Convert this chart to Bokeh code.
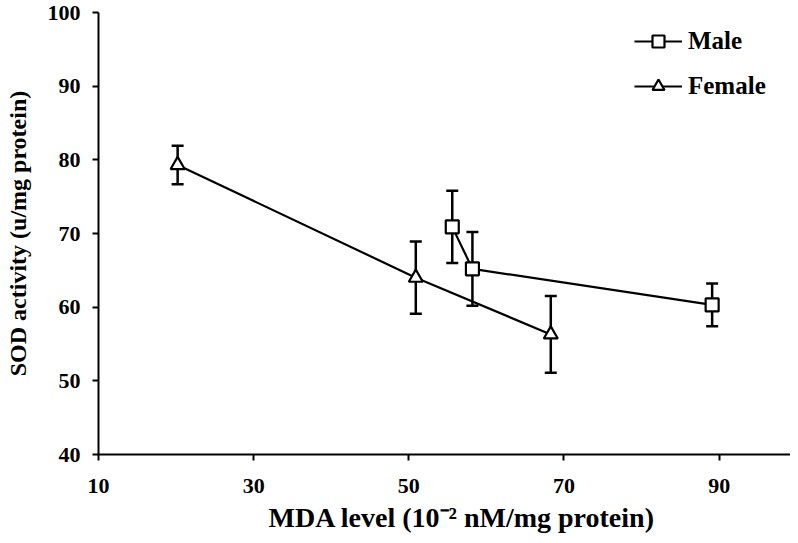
from bokeh.plotting import figure
from bokeh.models import Range1d, FixedTicker, Whisker, ColumnDataSource, Legend, LegendItem
from bokeh.models import TeeHead
from bokeh.embed import file_html
from bokeh.resources import INLINE

# Data
male_mda = [55.6, 58.2, 89.1]
male_sod = [70.9, 65.2, 60.3]
male_err = [4.9, 5.0, 2.9]

female_mda = [20.2, 50.9, 68.3]
female_sod = [79.3, 64.0, 56.3]
female_err = [2.6, 4.9, 5.2]

x_ticks = [10, 30, 50, 70, 90]
y_ticks = [40, 50, 60, 70, 80, 90, 100]

FONT = "Liberation Serif"

p = figure(width=790, height=535, output_backend="svg", toolbar_location=None,
           x_range=Range1d(10, 99.2), y_range=Range1d(40, 100),
           min_border_left=98, min_border_top=12, min_border_right=0, min_border_bottom=80)
p.outline_line_color = None
p.xgrid.visible = False
p.ygrid.visible = False
p.background_fill_color = "white"
p.border_fill_color = "white"

for ax in (p.xaxis[0], p.yaxis[0]):
    ax.axis_line_width = 2
    ax.axis_line_color = "black"
    ax.major_tick_line_width = 2
    ax.major_tick_line_color = "black"
    ax.major_tick_out = 6
    ax.major_tick_in = 0
    ax.minor_tick_line_color = None
    ax.major_label_text_font = FONT
    ax.major_label_text_font_style = "bold"
    ax.major_label_text_font_size = "22px"
    ax.major_label_text_color = "black"
    ax.axis_label_text_font = FONT
    ax.axis_label_text_font_style = "bold"
    ax.axis_label_text_color = "black"

p.xaxis[0].ticker = FixedTicker(ticks=x_ticks)
p.yaxis[0].ticker = FixedTicker(ticks=y_ticks)
p.xaxis[0].axis_label = "\u00a0\u00a0\u00a0\u00a0\u00a0MDA level (10\u207b\u00b2 nM/mg protein)"
p.yaxis[0].axis_label = "SOD activity (u/mg protein)"
p.xaxis[0].axis_label_text_font_size = "28px"
p.yaxis[0].axis_label_text_font_size = "24px"
p.xaxis[0].major_label_standoff = 18
p.yaxis[0].major_label_standoff = 12
p.xaxis[0].axis_label_standoff = 6
p.yaxis[0].axis_label_standoff = 14

def series(xs, ys, errs, marker, size):
    src = ColumnDataSource(dict(x=xs, y=ys,
                                lo=[a - e for a, e in zip(ys, errs)],
                                hi=[a + e for a, e in zip(ys, errs)]))
    w = Whisker(source=src, base="x", upper="hi", lower="lo", dimension="height",
                line_color="black", line_width=2.5,
                upper_head=TeeHead(size=12, line_width=2.5, line_color="black"),
                lower_head=TeeHead(size=12, line_width=2.5, line_color="black"))
    p.add_layout(w)
    ln = p.line("x", "y", source=src, line_color="black", line_width=2.2)
    sc = p.scatter("x", "y", source=src, marker=marker, size=size,
                   fill_color="white", line_color="black", line_width=2.2)
    return ln, sc

m_ln, m_sc = series(male_mda, male_sod, male_err, "square", 13)
f_ln, f_sc = series(female_mda, female_sod, female_err, "triangle", 14)

legend = Legend(items=[LegendItem(label="Male", renderers=[m_ln, m_sc]),
                       LegendItem(label="Female", renderers=[f_ln, f_sc])],
                location=(536, 353), orientation="vertical",
                padding=0, margin=0, spacing=15,
                glyph_width=48, glyph_height=30, label_height=30,
                label_standoff=6,
                label_text_font=FONT, label_text_font_style="bold",
                label_text_font_size="25px", label_text_color="black",
                border_line_color=None, background_fill_alpha=0)
p.add_layout(legend)

open("out.html", "w").write(file_html(p, INLINE))
